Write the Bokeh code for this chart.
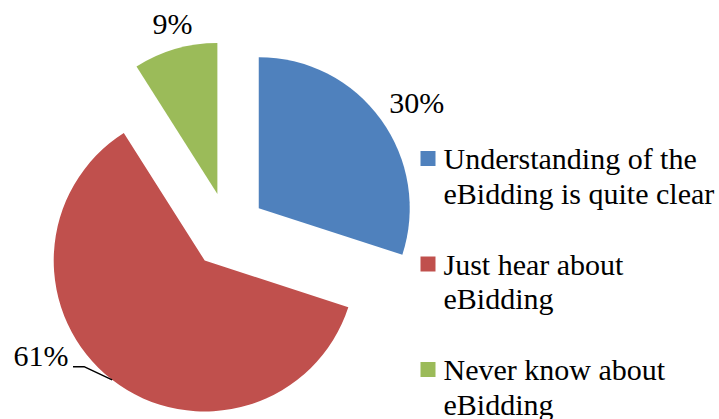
import numpy as np
from bokeh.plotting import figure
from bokeh.models import Range1d
from bokeh.core.properties import value
from bokeh.embed import file_html
from bokeh.resources import INLINE

# ---- data ----
categories = ["Understanding of the eBidding is quite clear",
              "Just hear about eBidding",
              "Never know about eBidding"]
legend_lines = [["Understanding of the", "eBidding is quite clear"],
                ["Just hear about", "eBidding"],
                ["Never know about", "eBidding"]]
shares = [30, 61, 9]
pct_labels = ["30%", "61%", "9%"]
colors = ["#4F81BD", "#C0504D", "#9BBB59"]

# ---- layout ----
W, H = 719, 419
CX, CY = 227.5, H - 230   # pie centre (data units = px, y up)
R = 151                   # radius
EXP = 38                  # explode distance
label_r = [228, 225, 214]
label_shift_deg = [1.9, 18.4, 1.2]
FONT = "'Liberation Serif', 'Times New Roman', serif"
FS = "30px"
TXT_ADJ = 10              # baseline correction

p = figure(width=W, height=H, x_range=Range1d(0, W), y_range=Range1d(0, H),
           output_backend="svg", toolbar_location=None, min_border=0)
p.axis.visible = False
p.grid.visible = False
p.outline_line_color = None
p.background_fill_color = "white"
p.border_fill_color = "white"

frac = np.array(shares, dtype=float) / sum(shares)
cum = np.concatenate([[0.0], np.cumsum(frac)])
start_cw = cum[:-1] * 2 * np.pi
end_cw = cum[1:] * 2 * np.pi
mid_cw = (start_cw + end_cw) / 2

sx = CX + EXP * np.sin(mid_cw)
sy = CY + EXP * np.cos(mid_cw)

p.wedge(x=list(sx), y=list(sy), radius=R,
        start_angle=list(np.pi / 2 - end_cw), end_angle=list(np.pi / 2 - start_cw),
        direction="anticlock", fill_color=colors, line_color=None)

# percentage labels
th = mid_cw + np.radians(label_shift_deg)
lx = CX + np.array(label_r) * np.sin(th)
ly = CY + np.array(label_r) * np.cos(th)
p.text(x=list(lx), y=list(ly - 10 + TXT_ADJ), text=pct_labels, text_align="center",
       text_baseline="alphabetic", text_font=value(FONT), text_font_size=FS,
       text_color="black")

# leader line for the 61% label
i = 1
ax = sx[i] + R * np.sin(mid_cw[i])
ay = sy[i] + R * np.cos(mid_cw[i])
p.line(x=[lx[i] + 32, lx[i] + 43, ax], y=[ly[i] - 11, ly[i] - 11, ay],
       line_color="black", line_width=1.5)

# legend
LEG_X, LEG_TOP, LEG_STEP, LINE_H = 427.5, 158, 105.5, 34.6
sq_y = [H - (LEG_TOP + k * LEG_STEP) for k in range(len(categories))]
p.rect(x=[LEG_X] * len(categories), y=sq_y, width=15, height=15,
       fill_color=colors, line_color=None)
tx, ty, tt = [], [], []
for k, lines in enumerate(legend_lines):
    for j, s in enumerate(lines):
        tx.append(LEG_X + 15.5)
        ty.append(sq_y[k] - 10 - j * LINE_H + TXT_ADJ)
        tt.append(s)
p.text(x=tx, y=ty, text=tt, text_align="left", text_baseline="alphabetic",
       text_font=value(FONT), text_font_size=FS, text_color="black")

open("out.html", "w").write(file_html(p, INLINE))
